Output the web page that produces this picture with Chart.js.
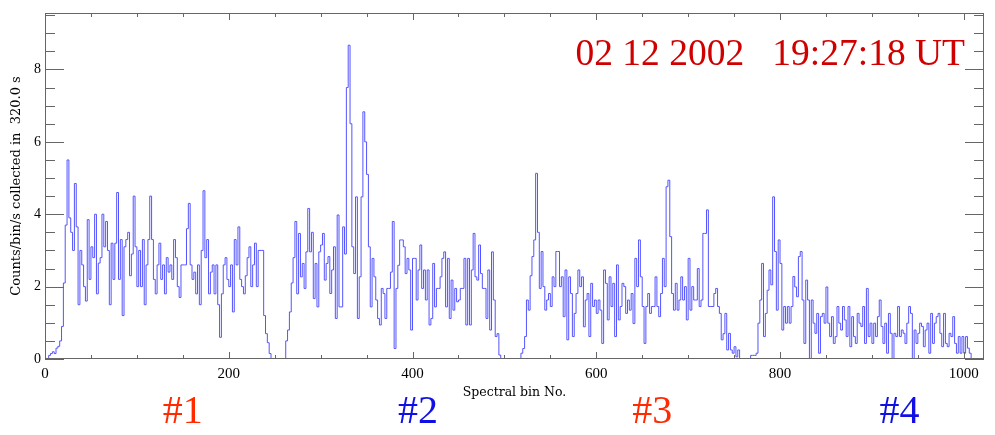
<!DOCTYPE html>
<html>
<head>
<meta charset="utf-8">
<script src="https://cdn.jsdelivr.net/npm/chart.js@4"></script>
<style>
  html, body { margin: 0; padding: 0; background: #fff; }
  canvas { display: block; }
</style>
</head>
<body>
<canvas id="spectrum" width="995" height="435"></canvas>
<script>
// counts/bin/s, one value per 2 spectral bins
const band1 = [
  0, 0, 0, 0.1, 0.15, 0.2, 0.15, 0.3, 0.35, 0.5,
  0.9, 2.1, 3.7, 5.5, 3.9, 3.5, 3.0, 4.85, 3.65, 1.5,
  3.0, 2.6, 2.0, 1.6, 3.85, 2.2, 3.1, 2.8, 4.0, 1.8,
  2.65, 2.8, 4.0, 3.1, 3.8, 3.0, 1.5, 3.2, 2.2, 3.2,
  4.6, 2.2, 3.3, 1.2, 3.1, 3.3, 3.5, 2.3, 2.9, 4.5,
  3.1, 2.0, 3.0, 2.0, 3.3, 1.5, 2.6, 3.3, 4.5, 3.3,
  2.2, 1.8, 2.6, 3.2, 2.2, 2.6, 1.8, 2.8, 2.4, 2.6,
  2.2, 3.3, 2.8, 2.0, 1.7, 2.6, 2.6, 2.6, 3.6, 4.3,
  2.6, 2.2, 2.4, 1.8, 2.6, 1.5, 3.0, 4.65, 2.8, 3.3,
  1.8, 2.4, 2.6, 1.8, 2.6, 1.5, 0.6, 1.8, 2.6, 2.8,
  2.2, 2.0, 2.6, 1.3, 3.3, 2.6, 3.65, 2.2, 2.0, 1.8,
  2.3, 2.8, 3.1, 2.0, 2.6, 3.2, 2.0, 3.0, 3.0, 3.0,
  1.2, 0.7, 0.45, 0.15, 0, 0, 0, 0
];
const band2 = [
  0, 0, 0, 0, 0.5, 0.8, 1.3, 2.1, 2.8, 3.8,
  1.8, 3.47, 2.27, 2.64, 1.95, 2.96, 4.16, 2.96, 3.5, 1.67,
  2.64, 1.44, 2.96, 3.15, 3.47, 2.18, 2.64, 2.83, 1.81, 2.46,
  3.1, 1.12, 3.98, 1.44, 1.44, 3.65, 2.9, 7.5, 8.67, 6.5,
  3.1, 2.36, 4.48, 1.12, 2.27, 4.48, 6.83, 6.0, 5.1, 3.1,
  1.44, 2.78, 2.27, 1.63, 1.12, 0.94, 1.95, 1.81, 1.12, 1.95,
  1.95, 2.4, 3.8, 0.29, 1.95, 2.59, 3.29, 3.29, 3.1, 2.36,
  2.78, 2.46, 0.8, 2.78, 2.78, 1.63, 2.46, 3.15, 1.95, 2.46,
  1.63, 2.46, 0.94, 1.12, 2.64, 1.44, 1.95, 1.95, 2.27, 2.78,
  2.96, 1.44, 2.78, 1.12, 2.18, 1.35, 1.95, 1.58, 1.63, 1.95,
  1.95, 2.78, 0.94, 2.78, 0.94, 2.46, 3.47, 2.27, 2.18, 3.15,
  2.36, 1.95, 1.95, 1.12, 2.46, 0.8, 2.96, 1.63, 0.62, 0.7,
  0.11, 0, 0, 0, 0, 0, 0, 0
];
const band3 = [
  0, 0, 0, 0, 0.16, 0.29, 0.62, 1.63, 1.35, 2.3,
  2.83, 3.29, 5.13, 3.5, 1.95, 2.97, 2.0, 1.35, 1.63, 1.81,
  1.45, 2.27, 2.0, 2.97, 2.97, 2.0, 2.27, 1.17, 2.46, 0.53,
  2.27, 1.81, 0.62, 1.26, 1.81, 2.46, 2.0, 2.27, 0.89, 1.63,
  1.81, 0.62, 2.09, 1.45, 1.63, 1.26, 1.63, 1.35, 0.43, 2.46,
  2.09, 1.08, 2.27, 1.45, 2.09, 0.62, 2.6, 1.08, 1.45, 2.09,
  2.0, 1.26, 1.63, 1.35, 1.81, 0.98, 2.78, 2.0, 3.29, 2.27,
  1.45, 0.43, 1.45, 1.81, 1.26, 1.45, 1.45, 2.27, 1.45, 1.17,
  1.81, 2.78, 2.0, 4.76, 4.94, 3.38, 1.81, 1.35, 2.09, 1.35,
  1.63, 2.27, 1.63, 2.0, 1.08, 2.78, 1.35, 2.0, 1.63, 1.63,
  2.5, 1.45, 1.63, 3.47, 3.47, 4.12, 1.45, 1.45, 1.45, 1.81,
  1.95, 1.45, 1.26, 0.53, 0.7, 1.26, 0.25, 0.71, 0.25, 0.16,
  0.34, 0.06, 0.25, 0, 0, 0, 0, 0
];
const band4 = [
  0, 0.1, 0.1, 0.1, 0.16, 0.99, 1.63, 2.64, 0.62, 1.26,
  1.9, 2.46, 2.05, 4.48, 2.97, 1.35, 3.29, 2.64, 0.8, 1.45,
  0.99, 1.45, 0.99, 1.45, 2.28, 1.99, 1.72, 2.83, 2.97, 1.63,
  0.43, 2.18, 1.63, 0, 1.63, 0.99, 0.71, 1.26, 0.16, 1.17,
  1.26, 0.99, 1.99, 0.99, 0.62, 1.17, 0.43, 0.62, 1.45, 0.99,
  0.8, 1.45, 1.08, 0.62, 1.45, 0.34, 1.17, 0.62, 0.43, 1.26,
  0.99, 0.9, 1.45, 0.43, 1.95, 0.62, 0.99, 0.43, 0.99, 0.62,
  1.17, 1.63, 0.9, 0.43, 0.99, 0.16, 1.26, 0.71, 0, 0.71,
  0.62, 1.45, 0.62, 0.8, 0.71, 0.43, 0.99, 1.45, 1.26, 0,
  0.8, 0.43, 0.71, 0.99, 0.9, 0.34, 0.8, 0.99, 0.16, 1.26,
  0.43, 0.99, 1.17, 1.26, 0.71, 0.34, 1.26, 0.43, 0.34, 0.71,
  0.62, 1.17, 0.43, 0.16, 0.62, 0.16, 0.62, 0.16, 0.62, 0.3,
  0.16, 0, 0, 0, 0, 0, 0, 0
];
const binWidth = 2;
const xTicks = [0, 200, 400, 600, 800, 1000];
const yTicks = [0, 2, 4, 6, 8];
const stamp = "02 12 2002   19:27:18 UT";
const bandNames = ["#1", "#2", "#3", "#4"];
const bandNameBins = [150, 406, 661, 930];
const bandNameColours = ["#ff2a00", "#1010e6", "#ff2a00", "#1010e6"];

const serif = "'Liberation Serif', 'DejaVu Serif', serif";
const wideSerif = "'DejaVu Serif', serif";
const counts = band1.concat(band2, band3, band4);
const points = counts.map((c, k) => ({ x: k * binWidth, y: c }));
points.push({ x: counts.length * binWidth, y: counts[counts.length - 1] });

// box + inward ticks, stamp and band names
const frame = {
  id: "frame",
  afterDraw(chart) {
    const { ctx, chartArea: a, scales: { x, y } } = chart;
    ctx.save();
    ctx.strokeStyle = "#666";
    ctx.lineWidth = 1;
    ctx.strokeRect(a.left + 0.5, a.top + 0.5, a.right - a.left - 1, a.bottom - a.top - 1);
    ctx.beginPath();
    for (let v = 0; v <= x.max; v += 50) {
      const px = Math.round(x.getPixelForValue(v)) + 0.5;
      const len = v % 200 === 0 ? 7 : 4;
      ctx.moveTo(px, a.bottom); ctx.lineTo(px, a.bottom - len);
      ctx.moveTo(px, a.top); ctx.lineTo(px, a.top + len);
    }
    for (let v = 0; v <= y.max; v += 0.5) {
      const py = Math.round(y.getPixelForValue(v)) + 0.5;
      const len = v % 2 === 0 ? 19 : 10;
      ctx.moveTo(a.left, py); ctx.lineTo(a.left + len, py);
      ctx.moveTo(a.right, py); ctx.lineTo(a.right - len, py);
    }
    ctx.stroke();

    ctx.fillStyle = "#d00000";
    ctx.font = "37.5px " + serif;
    ctx.textAlign = "right";
    ctx.textBaseline = "alphabetic";
    ctx.fillText(stamp, 965, 65);

    ctx.font = "40px " + serif;
    ctx.textAlign = "center";
    bandNames.forEach((name, i) => {
      ctx.fillStyle = bandNameColours[i];
      ctx.fillText(name, x.getPixelForValue(bandNameBins[i]), 423);
    });
    ctx.restore();
  }
};

new Chart(document.getElementById("spectrum"), {
  type: "line",
  data: {
    datasets: [{
      data: points,
      stepped: "after",
      borderColor: "rgb(84, 84, 255)",
      borderWidth: 1,
      pointRadius: 0,
      fill: false
    }]
  },
  options: {
    responsive: false,
    animation: false,
    devicePixelRatio: 1,
    layout: { padding: { left: 0, right: 11, top: 13, bottom: 0 } },
    plugins: { legend: { display: false }, tooltip: { enabled: false } },
    scales: {
      x: {
        type: "linear",
        min: 0,
        max: 1022,
        afterFit: (s) => { s.height = 76; },
        afterBuildTicks: (s) => { s.ticks = xTicks.map((v) => ({ value: v })); },
        grid: { display: false, drawTicks: false },
        border: { display: false },
        ticks: {
          padding: 6,
          color: "#000",
          font: { family: serif, size: 15 },
          maxRotation: 0,
          callback: (v) => String(v)
        },
        title: {
          display: true,
          text: "Spectral bin No.",
          color: "#000",
          font: { family: wideSerif, size: 12.5 },
          padding: { top: 0, bottom: 35 }
        }
      },
      y: {
        min: 0,
        max: 9.56,
        afterFit: (s) => { s.width = 45; },
        afterBuildTicks: (s) => { s.ticks = yTicks.map((v) => ({ value: v })); },
        grid: { display: false, drawTicks: false },
        border: { display: false },
        ticks: { padding: 4, color: "#000", font: { family: serif, size: 14 } },
        title: {
          display: true,
          text: "Counts/bin/s collected in  320.0 s",
          color: "#000",
          font: { family: wideSerif, size: 13 },
          padding: { top: 9, bottom: 0 }
        }
      }
    }
  },
  plugins: [frame]
});
</script>
</body>
</html>
